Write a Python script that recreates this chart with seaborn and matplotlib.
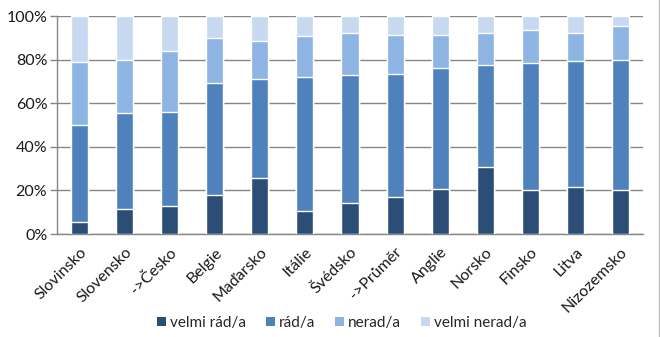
import matplotlib
matplotlib.use("Agg")
import matplotlib.pyplot as plt
from matplotlib.patches import Patch
from matplotlib.lines import Line2D
from matplotlib.ticker import FuncFormatter
import seaborn as sns
import pandas as pd
import numpy as np

countries = ["Slovinsko", "Slovensko", "->Česko", "Belgie", "Maďarsko", "Itálie",
             "Švédsko", "->Průměr", "Anglie", "Norsko", "Finsko", "Litva", "Nizozemsko"]
velmi_rad = [5.7, 11.6, 12.7, 17.9, 25.7, 10.7, 14.4, 17.2, 20.5, 30.8, 20.4, 21.6, 20.4]
rad = [44.4, 44.0, 43.2, 51.5, 45.4, 61.2, 58.7, 56.4, 55.5, 46.9, 57.9, 57.6, 59.6]
nerad = [28.7, 24.1, 27.9, 20.5, 17.6, 18.7, 19.3, 17.6, 15.2, 14.4, 15.2, 12.9, 15.2]
velmi_nerad = [21.2, 20.3, 16.2, 10.1, 11.3, 9.4, 7.6, 8.8, 8.8, 7.9, 6.5, 7.9, 4.8]

series_names = ["velmi rád/a", "rád/a", "nerad/a", "velmi nerad/a"]
colors = ["#2C4D75", "#4F81BD", "#8EB4E3", "#C6D9F1"]

sns.set_theme(style="white")
plt.rcParams["font.family"] = ["Lato", "DejaVu Sans"]

df = pd.DataFrame({"country": countries, "velmi rád/a": velmi_rad, "rád/a": rad,
                   "nerad/a": nerad, "velmi nerad/a": velmi_nerad})
seg = df[series_names].to_numpy()
cum = np.cumsum(seg, axis=1)
total = cum[:, -1:]
cum = cum / total  # share of respondents, 0..1

fig = plt.figure(figsize=(6.6, 3.37), dpi=100)
ax = fig.add_axes([57 / 660, 1 - 234 / 337, (643 - 57) / 660, (234 - 16) / 337])

# stacked bars: draw the cumulative totals from the top layer down
for i in range(len(series_names) - 1, -1, -1):
    sns.barplot(x=df["country"], y=cum[:, i], color=colors[i], width=0.38,
                saturation=1, ax=ax, zorder=3, order=countries)

ax.set_ylim(0, 1)
ax.set_xlim(-0.5, len(countries) - 0.5)
ax.set_yticks(np.arange(0, 1.01, 0.2))
ax.yaxis.set_major_formatter(FuncFormatter(lambda v, p: f"{v * 100:.0f}%"))
ax.grid(axis="y", color="#868686", linewidth=1, zorder=0)
ax.set_axisbelow(True)
ax.set_xlabel("")
ax.set_ylabel("")

for s in ["top", "right"]:
    ax.spines[s].set_visible(False)
for s in ["left", "bottom"]:
    ax.spines[s].set_color("#868686")
    ax.spines[s].set_linewidth(1)

# category labels between boundary ticks
ax.set_xticks(range(len(countries)))
ax.set_xticklabels(countries, rotation=45, ha="right", rotation_mode="anchor",
                   fontsize=11.5, color="#1a1a1a")
ax.tick_params(axis="x", length=0, pad=8)
ax.set_xticks(np.arange(-0.5, len(countries), 1), minor=True)
ax.tick_params(axis="x", which="minor", length=5, color="#868686", width=1)
ax.tick_params(axis="y", length=5, color="#868686", width=1, labelsize=11.5,
               labelcolor="#1a1a1a", pad=2, left=True)

handles = [Patch(facecolor=c, edgecolor="none", label=n) for c, n in zip(colors, series_names)]
fig.legend(handles=handles, loc="center", bbox_to_anchor=(342 / 660, 1 - 323 / 337),
           ncol=4, frameon=False, fontsize=11, handlelength=0.6, handleheight=0.6,
           handletextpad=0.25, columnspacing=1.3)

# chart frame edge on the right
fig.add_artist(Line2D([659 / 660, 659 / 660], [0, 1], color="#BFBFBF", linewidth=1))

fig.savefig("out.png", dpi=100)
